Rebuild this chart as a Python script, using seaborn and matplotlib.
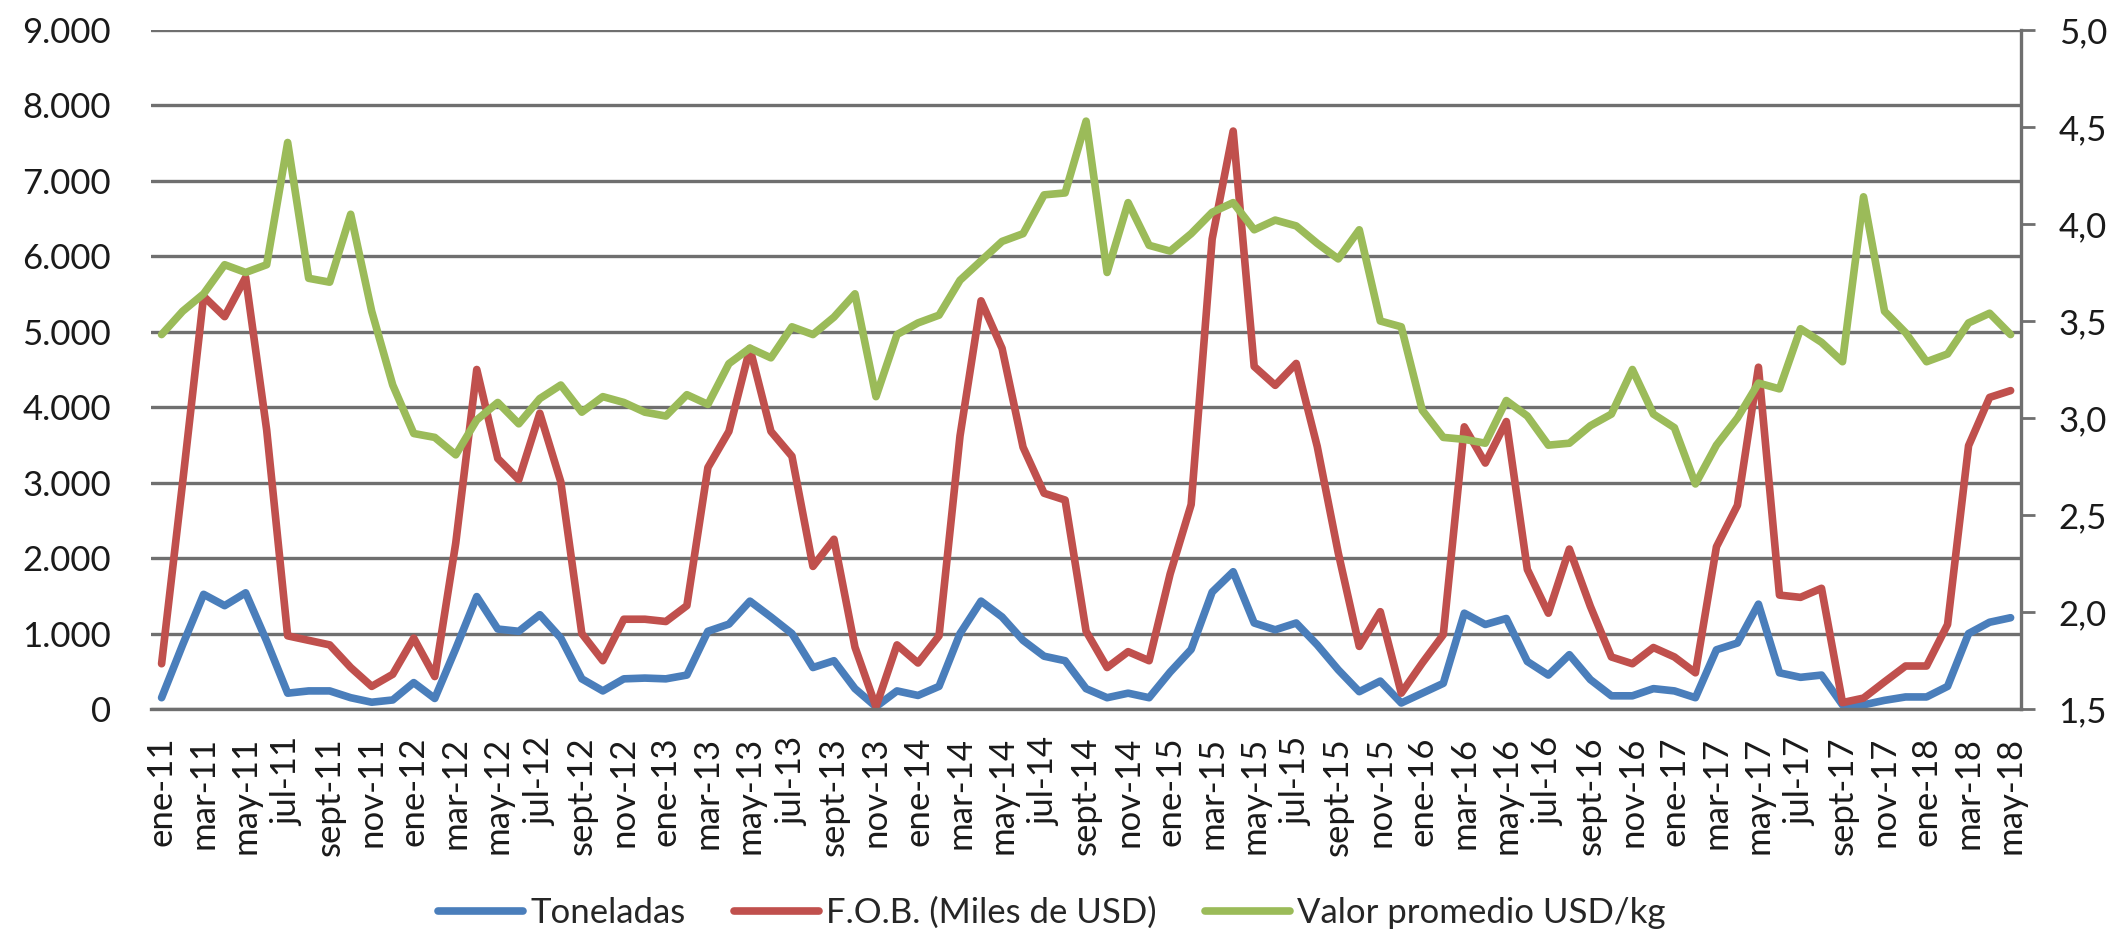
import pandas as pd
import matplotlib
matplotlib.use("Agg")
import matplotlib.pyplot as plt
import seaborn as sns
from matplotlib.ticker import FixedLocator, FuncFormatter

# monthly series, ene-11 .. may-18
meses = ["ene", "feb", "mar", "abr", "may", "jun", "jul", "ago", "sept", "oct", "nov", "dic"]
anios = ["11", "12", "13", "14", "15", "16", "17", "18"]
periodos = [f"{m}-{a}" for a in anios for m in meses][:89]

toneladas = [150, 850, 1520, 1370, 1540, 900, 210, 240, 240, 150, 90, 120,
             350, 140, 800, 1490, 1060, 1030, 1250, 940, 400, 240, 400, 410,
             400, 450, 1030, 1125, 1430, 1220, 1000, 550, 640, 270, 30, 240,
             180, 300, 1000, 1430, 1220, 910, 700, 640, 270, 150, 210, 150,
             490, 790, 1550, 1820, 1140, 1050, 1140, 850, 520, 230, 370, 80,
             210, 340, 1270, 1120, 1200, 630, 450, 720, 390, 175, 175, 270,
             240, 150, 785, 875, 1390, 480, 420, 450, 55, 55, 115, 160,
             160, 300, 1000, 1150, 1210]

fob = [600, 3000, 5470, 5200, 5720, 3700, 970, 910, 850, 550, 300, 460,
       940, 430, 2200, 4500, 3320, 3040, 3920, 3010, 1000, 640, 1190, 1190,
       1160, 1370, 3200, 3680, 4780, 3680, 3350, 1890, 2250, 820, 30, 850,
       610, 970, 3620, 5410, 4780, 3470, 2860, 2770, 1030, 550, 760, 640,
       1790, 2710, 6230, 7660, 4540, 4290, 4580, 3480, 2070, 830, 1290, 210,
       610, 985, 3740, 3260, 3810, 1850, 1270, 2120, 1360, 690, 600, 815,
       690, 480, 2150, 2700, 4530, 1510, 1480, 1600, 85, 145, 360, 570,
       570, 1120, 3490, 4130, 4220]

valor = [3.43, 3.55, 3.64, 3.79, 3.75, 3.79, 4.42, 3.72, 3.70, 4.05, 3.55, 3.17,
         2.92, 2.90, 2.81, 2.99, 3.08, 2.97, 3.10, 3.17, 3.03, 3.11, 3.08, 3.03,
         3.01, 3.12, 3.07, 3.28, 3.36, 3.31, 3.47, 3.43, 3.52, 3.64, 3.11, 3.43,
         3.49, 3.53, 3.71, 3.81, 3.91, 3.95, 4.15, 4.16, 4.53, 3.75, 4.11, 3.89,
         3.86, 3.95, 4.06, 4.11, 3.97, 4.02, 3.99, 3.90, 3.82, 3.97, 3.50, 3.47,
         3.04, 2.90, 2.89, 2.87, 3.09, 3.01, 2.86, 2.87, 2.96, 3.02, 3.25, 3.02,
         2.95, 2.66, 2.86, 3.00, 3.18, 3.15, 3.46, 3.39, 3.29, 4.14, 3.55, 3.44,
         3.29, 3.33, 3.49, 3.54, 3.43]

df = pd.DataFrame({"pos": range(len(periodos)), "periodo": periodos,
                   "Toneladas": toneladas, "FOB": fob, "Valor": valor})

sns.set_theme(style="white")
plt.rcParams["font.family"] = ["Lato", "DejaVu Sans"]

AZUL = "#4a7ebb"
ROJO = "#c0504d"
VERDE = "#9bbb59"
GRIS = "#6f6f6f"
LW = 5.5

fig = plt.figure(figsize=(21.19, 9.36), dpi=100)
ax = fig.add_axes([0.0713, 0.2425, 0.8825, 0.7255])
ax2 = ax.twinx()

sns.lineplot(data=df, x="pos", y="Toneladas", ax=ax, color=AZUL, lw=LW, label="Toneladas")
sns.lineplot(data=df, x="pos", y="FOB", ax=ax, color=ROJO, lw=LW, label="F.O.B. (Miles de USD)")
sns.lineplot(data=df, x="pos", y="Valor", ax=ax2, color=VERDE, lw=LW, label="Valor promedio USD/kg")

ax.set_xlim(-0.5, len(periodos) - 0.5)
ax.set_ylim(0, 9000)
ax2.set_ylim(1.5, 5.0)

ax.yaxis.set_major_locator(FixedLocator(range(0, 9001, 1000)))
ax.yaxis.set_major_formatter(FuncFormatter(lambda v, p: f"{int(v):,}".replace(",", ".")))
ax2.yaxis.set_major_locator(FixedLocator([1.5, 2.0, 2.5, 3.0, 3.5, 4.0, 4.5, 5.0]))
ax2.yaxis.set_major_formatter(FuncFormatter(lambda v, p: f"{v:.1f}".replace(".", ",")))

ax.set_xticks(df["pos"][::2])
ax.set_xticklabels(df["periodo"][::2], rotation=90)

ax.grid(axis="y", color=GRIS, lw=2.4)
ax.set_axisbelow(True)
ax.set_xlabel("")
ax.set_ylabel("")
ax2.set_ylabel("")

ax.tick_params(axis="x", length=0, pad=20, labelsize=25, colors="#1a1a1a")
ax.tick_params(axis="y", length=0, pad=29, labelsize=25, colors="#1a1a1a")
ax2.tick_params(axis="y", length=10, width=2, color=GRIS, pad=17, labelsize=25, labelcolor="#1a1a1a")

for sp in ["left", "top"]:
    ax.spines[sp].set_visible(False)
    ax2.spines[sp].set_visible(False)
ax.spines["right"].set_visible(False)
ax2.spines["bottom"].set_visible(False)
ax.spines["bottom"].set_color(GRIS)
ax.spines["bottom"].set_linewidth(2.4)
ax2.spines["right"].set_color(GRIS)
ax2.spines["right"].set_linewidth(2.4)

h1, l1 = ax.get_legend_handles_labels()
h2, l2 = ax2.get_legend_handles_labels()
ax.get_legend().remove()
ax2.get_legend().remove()
fig.legend(h1 + h2, l1 + l2, loc="center", bbox_to_anchor=(0.4965, 0.0246),
           ncol=3, frameon=False, fontsize=25, handlelength=2.45,
           handletextpad=0.2, columnspacing=1.4)

fig.savefig("out.png", dpi=100)
